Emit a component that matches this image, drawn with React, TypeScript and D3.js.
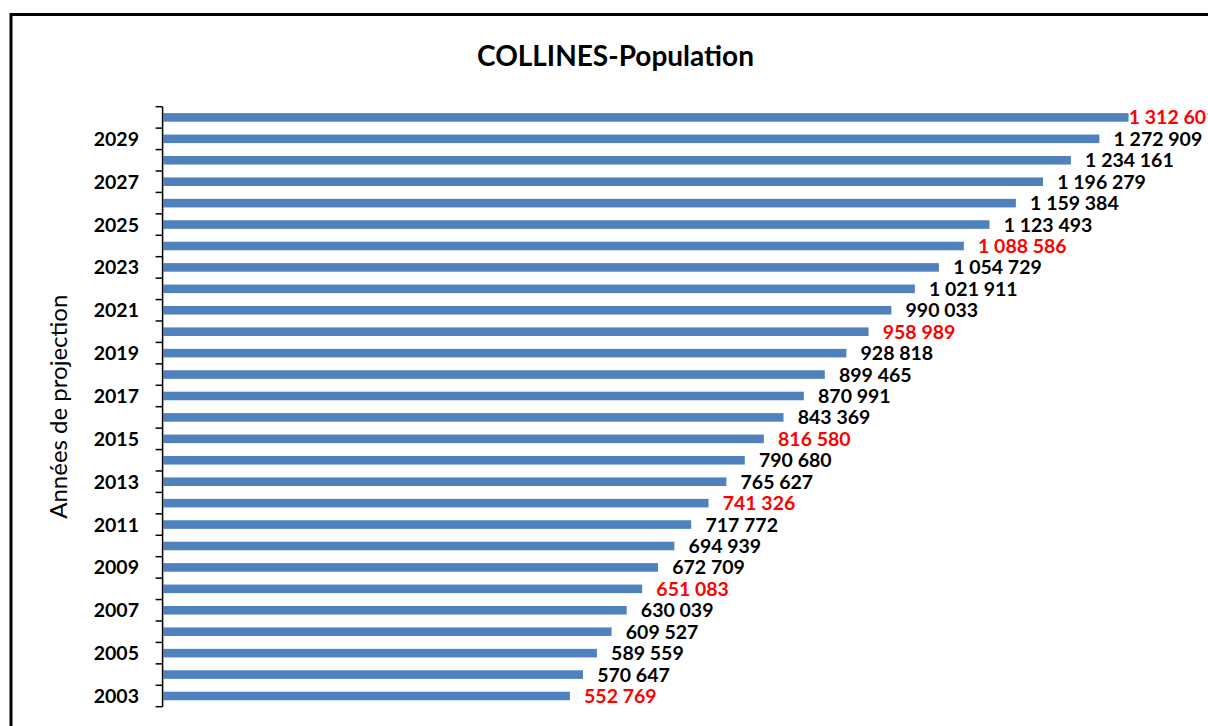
import React, { useEffect, useRef } from 'react';
import * as d3 from 'd3';

const years = [2003, 2004, 2005, 2006, 2007, 2008, 2009, 2010, 2011, 2012, 2013, 2014, 2015, 2016,
  2017, 2018, 2019, 2020, 2021, 2022, 2023, 2024, 2025, 2026, 2027, 2028, 2029, 2030];
const population = [552769, 570647, 589559, 609527, 630039, 651083, 672709, 694939, 717772, 741326,
  765627, 790680, 816580, 843369, 870991, 899465, 928818, 958989, 990033, 1021911, 1054729, 1088586,
  1123493, 1159384, 1196279, 1234161, 1272909, 1312601];
const highlighted = [2003, 2008, 2012, 2015, 2020, 2024, 2030];
const labelledYears = [2003, 2005, 2007, 2009, 2011, 2013, 2015, 2017, 2019, 2021, 2023, 2025, 2027, 2029];

const fmt = (v: number) => d3.format(',')(v).replace(/,/g, ' ');

const App: React.FC = () => {
  const ref = useRef<SVGSVGElement | null>(null);

  useEffect(() => {
    const W = 1208, H = 726;
    const plot = { left: 162.6, top: 106.7, bottom: 706.7 };
    const font = 'Lato, "Open Sans", sans-serif';

    const svg = d3.select(ref.current);
    svg.selectAll('*').remove();
    svg.attr('width', W).attr('height', H);

    svg.append('rect').attr('width', W).attr('height', H).attr('fill', '#fff');

    // outer frame (cut by the picture on the right and bottom)
    svg.append('rect')
      .attr('x', 11).attr('y', 14.5)
      .attr('width', 1400).attr('height', 900)
      .attr('fill', 'none').attr('stroke', '#000').attr('stroke-width', 3);

    const data = years.map((y, i) => ({ year: y, value: population[i] }));

    const x = d3.scaleLinear()
      .domain([0, 1400000])
      .range([plot.left, plot.left + 1400000 * 0.0007353]);

    const y = d3.scaleBand<number>()
      .domain([...years].reverse())
      .range([plot.top, plot.bottom])
      .paddingInner(0.6)
      .paddingOuter(0.3);

    const step = y.step();

    // bars
    svg.append('g')
      .selectAll('rect')
      .data(data)
      .enter()
      .append('rect')
      .attr('x', x(0) + 0.8)
      .attr('y', d => y(d.year)!)
      .attr('width', d => x(d.value) - x(0))
      .attr('height', y.bandwidth())
      .attr('fill', '#4F81BD');

    // value labels
    const maxV = d3.max(population)!;
    svg.append('g')
      .selectAll('text')
      .data(data)
      .enter()
      .append('text')
      .attr('x', d => Math.min(x(d.value) + 15, x(maxV) + 1))
      .attr('y', d => y(d.year)! + y.bandwidth() / 2)
      .attr('dy', '0.36em')
      .attr('font-family', font)
      .attr('font-weight', 700)
      .attr('font-size', 19.5)
      .attr('fill', d => highlighted.includes(d.year) ? '#FF0000' : '#000')
      .text(d => fmt(d.value));

    // y axis line + ticks at band edges
    const axis = svg.append('g');
    axis.append('line')
      .attr('x1', plot.left).attr('x2', plot.left)
      .attr('y1', plot.top).attr('y2', plot.bottom)
      .attr('stroke', '#000').attr('stroke-width', 1.5);
    axis.selectAll('line.tick')
      .data(d3.range(years.length + 1))
      .enter()
      .append('line')
      .attr('class', 'tick')
      .attr('x1', plot.left - 7).attr('x2', plot.left)
      .attr('y1', i => plot.top + i * step)
      .attr('y2', i => plot.top + i * step)
      .attr('stroke', '#000').attr('stroke-width', 1.5);

    axis.selectAll('text')
      .data(labelledYears)
      .enter()
      .append('text')
      .attr('x', 139)
      .attr('y', d => y(d)! + y.bandwidth() / 2)
      .attr('dy', '0.36em')
      .attr('text-anchor', 'end')
      .attr('font-family', font)
      .attr('font-weight', 700)
      .attr('font-size', 19.5)
      .attr('fill', '#000')
      .text(d => String(d));

    // axis title
    svg.append('text')
      .attr('transform', `translate(67,${(plot.top + plot.bottom) / 2}) rotate(-90)`)
      .attr('text-anchor', 'middle')
      .attr('font-family', font)
      .attr('font-size', 24)
      .attr('fill', '#000')
      .text('Années de projection');

    // title
    svg.append('text')
      .attr('x', 615.5)
      .attr('y', 66)
      .attr('text-anchor', 'middle')
      .attr('font-family', font)
      .attr('font-weight', 700)
      .attr('font-size', 28)
      .attr('fill', '#000')
      .text('COLLINES-Population');
  }, []);

  return (
    <div style={{ position: 'absolute', left: 0, top: 0 }}>
      <svg ref={ref} style={{ display: 'block' }} />
    </div>
  );
};

export default App;
